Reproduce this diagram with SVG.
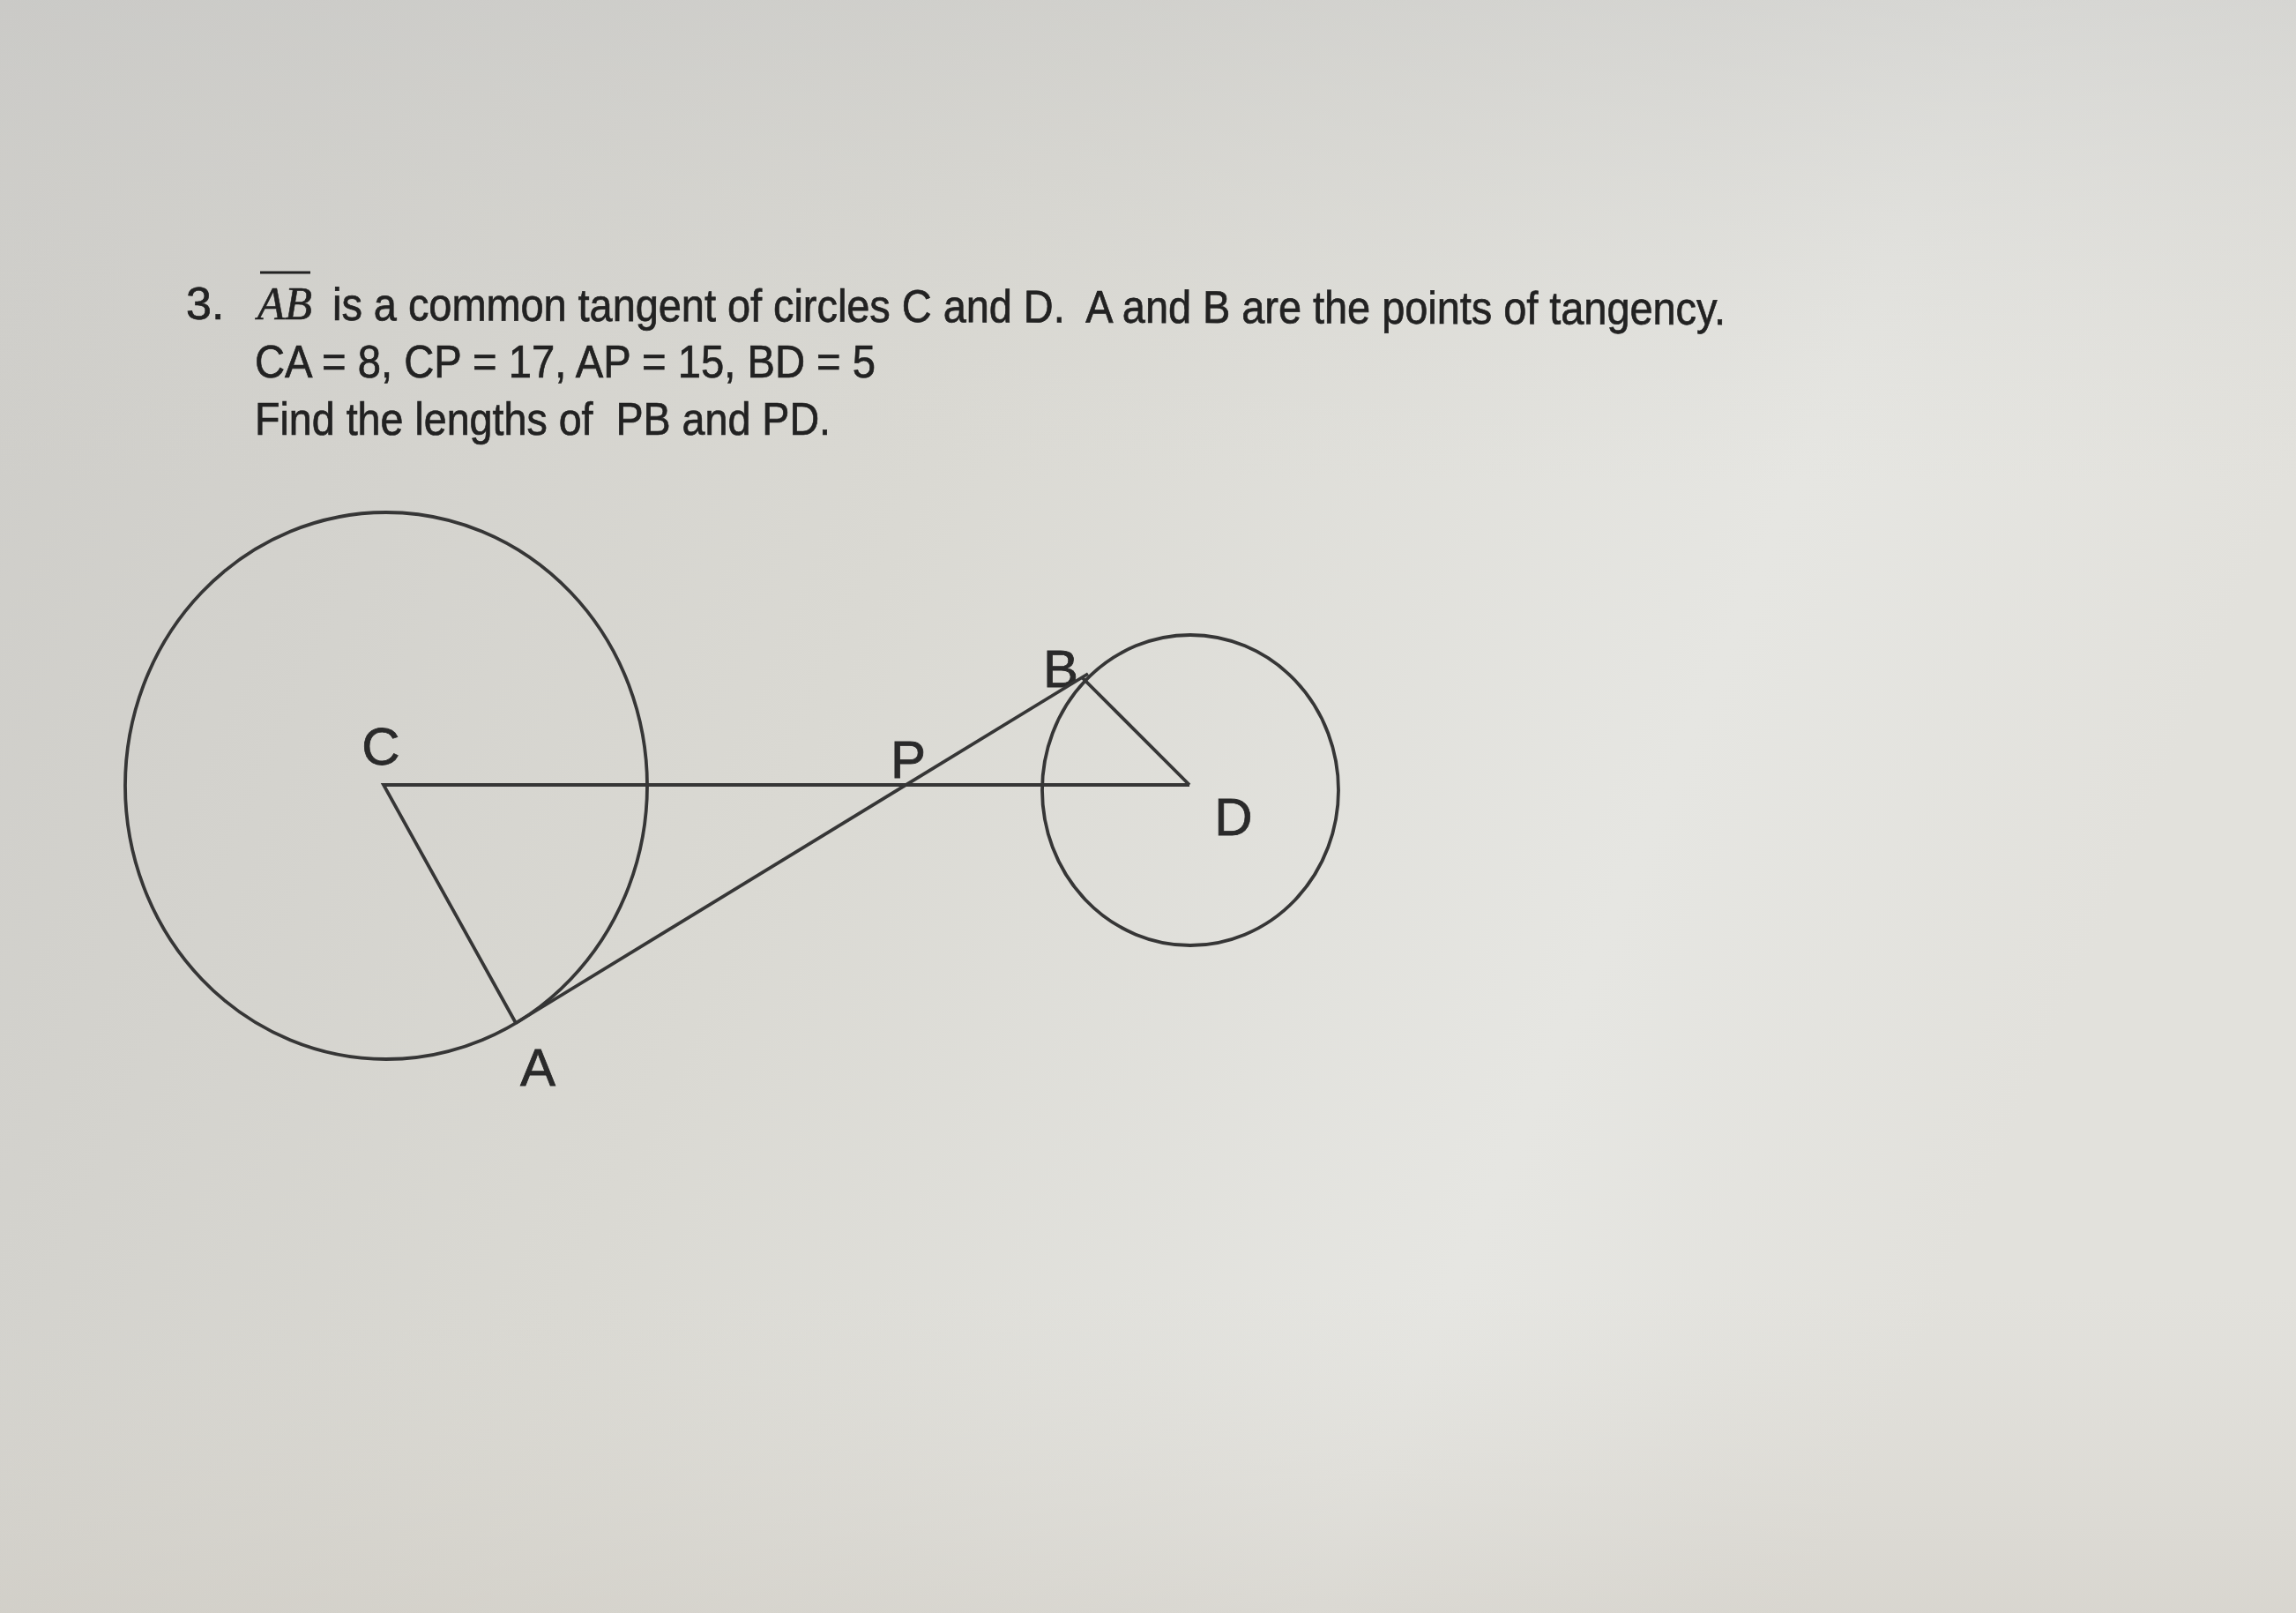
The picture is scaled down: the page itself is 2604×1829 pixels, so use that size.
<svg xmlns="http://www.w3.org/2000/svg" width="2604" height="1829" viewBox="0 0 2604 1829">
<defs>
<linearGradient id="bg" x1="0" y1="0" x2="1" y2="0.3">
<stop offset="0" stop-color="#cdccc8"/>
<stop offset="0.45" stop-color="#dad9d3"/>
<stop offset="0.8" stop-color="#e6e6e2"/>
<stop offset="1" stop-color="#e2e1dc"/>
</linearGradient>
<linearGradient id="shade" x1="0" y1="0" x2="0" y2="1">
<stop offset="0" stop-color="#c8c8c6" stop-opacity="0.5"/>
<stop offset="0.3" stop-color="#d8d7d2" stop-opacity="0"/>
<stop offset="0.8" stop-color="#d8d5ce" stop-opacity="0"/>
<stop offset="1" stop-color="#cfcbc3" stop-opacity="0.5"/>
</linearGradient>
<style>
.ln{fill:none;stroke:#363636;stroke-width:3.8;stroke-linejoin:miter}
.lbl{font-family:"Liberation Sans",Arial,sans-serif;font-size:60px;fill:#2a2a2a;stroke:#2a2a2a;stroke-width:0.8;text-anchor:middle}
.txt{font-family:"Liberation Sans",Arial,sans-serif;font-size:52px;fill:#222;stroke:#222;stroke-width:0.7}
</style>
</defs>
<rect width="2604" height="1829" fill="url(#bg)"/>
<rect width="2604" height="1829" fill="url(#shade)"/>
<g id="question">
<text class="txt" x="211" y="362">3.</text>
<text x="292" y="362" font-family="'Liberation Serif','Times New Roman',serif" font-style="italic" font-size="52" fill="#222" stroke="#222" stroke-width="0.6" textLength="62" lengthAdjust="spacingAndGlyphs">AB</text>
<line x1="295" y1="309" x2="352" y2="309" stroke="#222" stroke-width="3"/>
<text class="txt" xml:space="preserve" x="377" y="363" textLength="1580" lengthAdjust="spacingAndGlyphs" transform="rotate(0.18 377 363)">is a common tangent of circles C and D.  A and B are the points of tangency.</text>
<text class="txt" x="289" y="428" textLength="704" lengthAdjust="spacingAndGlyphs">CA = 8, CP = 17, AP = 15, BD = 5</text>
<text class="txt" xml:space="preserve" x="289" y="493" textLength="653" lengthAdjust="spacingAndGlyphs">Find the lengths of  PB and PD.</text>
</g>
<g id="circleC">
<ellipse class="ln" cx="438" cy="891" rx="296" ry="310"/>
<text class="lbl" x="432" y="867">C</text>
</g>
<g id="circleD">
<ellipse class="ln" cx="1350" cy="896" rx="168" ry="176"/>
<text class="lbl" x="1399" y="947">D</text>
</g>
<g id="pointA"><text class="lbl" x="610" y="1231">A</text></g>
<g id="pointB"><text class="lbl" x="1203" y="779">B</text></g>
<g id="pointP"><text class="lbl" x="1030" y="882">P</text></g>
<g id="connectors">
<polyline class="ln" points="1349,890 435,890 585,1160"/>
<line class="ln" x1="585" y1="1160" x2="1234" y2="764"/>
<line class="ln" x1="1227" y1="768" x2="1349" y2="890"/>
</g>
</svg>
